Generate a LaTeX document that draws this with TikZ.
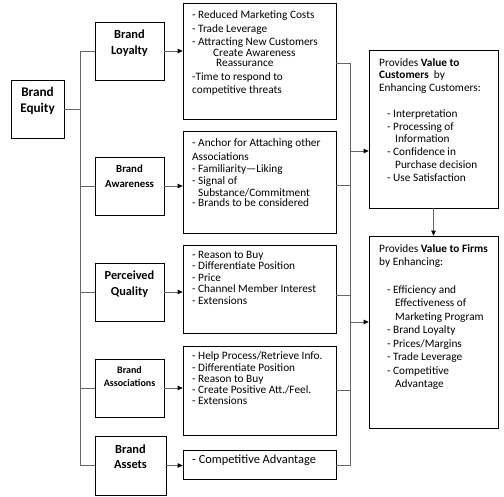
\documentclass[tikz,border=0pt]{standalone}
\usepackage{fontspec}
\setmainfont{Carlito}
\usetikzlibrary{arrows.meta,calc}
\begin{document}
\begin{tikzpicture}[x=1pt,y=-1pt,
  box/.style={draw=black,line width=0.7pt,inner sep=0pt,fill=white},
  ttl/.style={align=center,inner sep=0pt},
  txt/.style={font=\fontsize{11.3}{13.5}\selectfont,align=left,anchor=north west,inner sep=0pt},
  conn/.style={draw=black!60,line width=0.9pt},
  arr/.style={conn,-{Triangle[length=5pt,width=4.5pt,color=black]}}]
\useasboundingbox (0,0) rectangle (504,497);
% category boxes
\node[box,minimum width=53pt,minimum height=58pt] (eq) at (37.5,109) {};
\node[box,minimum width=69pt,minimum height=58pt] (loy) at (129.5,51) {};
\node[box,minimum width=69pt,minimum height=58pt] (awa) at (129.5,186) {};
\node[box,minimum width=69pt,minimum height=58pt] (qua) at (129.5,292) {};
\node[box,minimum width=69pt,minimum height=58pt] (ass) at (129.5,388) {};
\node[box,minimum width=71pt,minimum height=59pt] (ast) at (130.5,465.5) {};
% text boxes
\node[box,minimum width=153pt,minimum height=116pt] (tloy) at (259.5,61) {};
\node[box,minimum width=153pt,minimum height=102pt] (tawa) at (259.5,182) {};
\node[box,minimum width=153pt,minimum height=88pt] (tqua) at (259.5,289) {};
\node[box,minimum width=153pt,minimum height=89pt] (tass) at (259.5,390.5) {};
\node[box,minimum width=153pt,minimum height=29pt] (tast) at (259.5,464.5) {};
\node[box,minimum width=129pt,minimum height=158pt] (cus) at (433.5,129) {};
\node[box,minimum width=129pt,minimum height=192pt] (fir) at (433.5,332) {};
% titles
\node[ttl,font=\bfseries\fontsize{13.2}{16}\selectfont] (eqT) at ([yshift=8pt]eq.center) {Brand\\Equity};
\node[ttl,font=\bfseries\fontsize{12.4}{16}\selectfont] (loyT) at ([yshift=8pt]loy.center) {Brand\\Loyalty};
\node[ttl,font=\bfseries\fontsize{10.8}{15}\selectfont] (awaT) at ([yshift=10pt]awa.center) {Brand\\Awareness};
\node[ttl,font=\bfseries\fontsize{12.3}{16}\selectfont] (quaT) at ([yshift=8pt]qua.center) {Perceived\\Quality};
\node[ttl,font=\bfseries\fontsize{10}{13}\selectfont] (assT) at ([yshift=11pt]ass.center) {Brand\\Associations};
\node[ttl,font=\bfseries\fontsize{12.4}{15}\selectfont] (astT) at ([yshift=9pt]ast.center) {Brand\\Assets};
% texts
\node[txt] (tloyT) at (192,10.6) {- Reduced Marketing Costs\\
- Trade Leverage\\
- Attracting New Customers\\[-2.8pt]
\hspace*{21pt}Create Awareness\\[-3pt]
\hspace*{24pt}Reassurance\\
-Time to respond to\\
competitive threats};
\node[txt,font=\fontsize{11.3}{12}\selectfont] (tawaT) at (192,138.8) {- Anchor for Attaching other\\[2pt]
Associations\\
- Familiarity\textemdash Liking\\
- Signal of\\
\hspace*{6pt}Substance/Commitment\\[-2pt]
- Brands to be considered};
\node[txt,font=\fontsize{11.3}{11.5}\selectfont] (tquaT) at (192,250.8) {- Reason to Buy\\
- Differentiate Position\\
- Price\\
- Channel Member Interest\\
- Extensions};
\node[txt,font=\fontsize{11.3}{11.2}\selectfont] (tassT) at (192,351.8) {- Help Process/Retrieve Info.\\
- Differentiate Position\\
- Reason to Buy\\
- Create Positive Att./Feel.\\
- Extensions};
\node[txt,font=\fontsize{12.4}{14}\selectfont] (tastT) at (192,455) {- Competitive Advantage};
\node[txt,font=\fontsize{11.3}{12.8}\selectfont] (cusT) at (379,58) {Provides \textbf{Value to}\\
\textbf{Customers}\ \ by\\
Enhancing Customers:\\[12.8pt]
\hspace*{8pt}- Interpretation\\
\hspace*{8pt}- Processing of\\
\hspace*{16pt}Information\\
\hspace*{8pt}- Confidence in\\
\hspace*{16pt}Purchase decision\\
\hspace*{8pt}- Use Satisfaction};
\node[txt,font=\fontsize{11.3}{13.5}\selectfont] (firT) at (379,244) {Provides \textbf{Value to Firms}\\
by Enhancing:\\[14pt]
\hspace*{8pt}- Efficiency and\\
\hspace*{16pt}Effectiveness of\\
\hspace*{16pt}Marketing Program\\
\hspace*{8pt}- Brand Loyalty\\
\hspace*{8pt}- Prices/Margins\\
\hspace*{8pt}- Trade Leverage\\
\hspace*{8pt}- Competitive\\
\hspace*{16pt}Advantage};
% left connectors
\coordinate (tx) at (80,0);
\coordinate (rx) at (350,0);
\draw[conn] (eq.east) -- (eq.east -| tx);
\draw[conn] (loy.west) -- (loy.west -| tx) -- (ast.west -| tx) -- (ast.west);
\foreach \b in {awa,qua,ass} \draw[conn] (\b.west -| tx) -- (\b.west);
\foreach \b in {loy,awa,qua,ass,ast} \draw[arr] (\b.east) -- (\b.east -| t\b.west);
% right connectors
\coordinate (r1) at (350,63);
\coordinate (r2) at (350,185);
\coordinate (r3) at (350,295);
\coordinate (r4) at (350,390);
\coordinate (r5) at (350,465);
\coordinate (rc) at (350,151);
\coordinate (rf) at (350,322);
\draw[conn] (tloy.east |- r1) -- (r1) -- (r5) -- (tast.east |- r5);
\draw[conn] (tawa.east |- r2) -- (r2);
\draw[conn] (tqua.east |- r3) -- (r3);
\draw[conn] (tass.east |- r4) -- (r4);
\draw[arr] (rc) -- (rc -| cus.west);
\draw[arr] (rf) -- (rf -| fir.west);
\draw[arr] (cus.south) -- (fir.north);
\end{tikzpicture}
\end{document}
